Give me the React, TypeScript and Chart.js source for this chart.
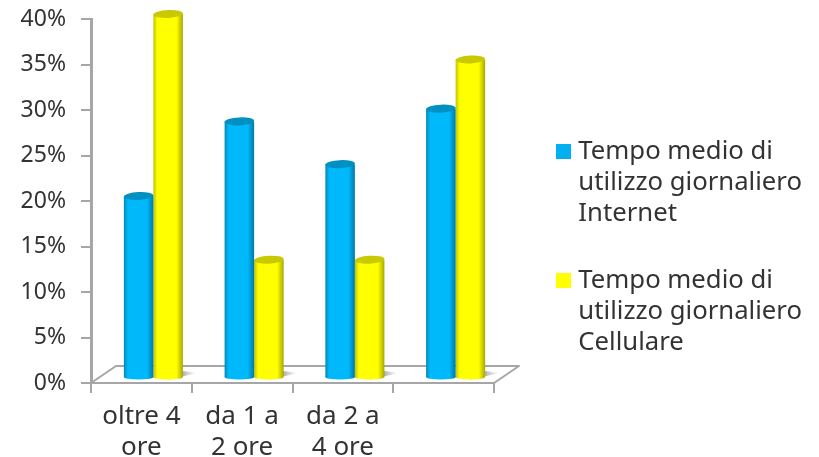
import React, { useEffect, useRef } from "react";
import { Chart, registerables } from "chart.js";

Chart.register(...registerables);

const categories: (string | string[])[] = [["oltre 4", "ore"], ["da 1 a", "2 ore"], ["da 2 a", "4 ore"], ""];
const internetValues = [20, 28.2, 23.5, 29.6];
const cellulareValues = [40, 13, 13, 35];
const internetLabel = ["Tempo medio di", "utilizzo giornaliero", "Internet"];
const cellulareLabel = ["Tempo medio di", "utilizzo giornaliero", "Cellulare"];
const yTicks = [0, 5, 10, 15, 20, 25, 30, 35, 40];

const TEXT = "#333333";
const AXIS = "#a6a6a6";
const FONT = "'Noto Sans'";
const SHIFT_X = 12;
const SHIFT_Y = -5;
const DEPTH_X = 25;
const DEPTH_Y = 17;
const CAT_PCT = 0.586;
const CAP_RY = 4;
const BASE_RY = 2.5;

const palette = [
  { edgeL: "#0089b8", mid: "#00b9fb", edgeR: "#0079a6", cap: "#0090c2", solid: "#00b0f0" },
  { edgeL: "#c4c400", mid: "#ffff00", edgeR: "#a8a800", cap: "#c9c900", solid: "#ffff00" },
];

function barGradient(c: CanvasRenderingContext2D, left: number, width: number, p: (typeof palette)[number]) {
  const g = c.createLinearGradient(left, 0, left + width, 0);
  g.addColorStop(0, p.edgeL);
  g.addColorStop(0.14, p.mid);
  g.addColorStop(0.78, p.mid);
  g.addColorStop(1, p.edgeR);
  return g;
}

function scriptedBackground(datasetIndex: number) {
  return (ctx: any) => {
    const chart = ctx.chart;
    const x = chart.scales.x;
    if (!x || !chart.chartArea) return palette[datasetIndex].solid;
    const catW = chart.chartArea.width / categories.length;
    const w = (catW * CAT_PCT) / 2;
    const center = x.getPixelForValue(ctx.dataIndex);
    const left = datasetIndex === 0 ? center - w : center;
    return barGradient(chart.ctx, left, w, palette[datasetIndex]);
  };
}

function squareMarker(color: string) {
  const c = document.createElement("canvas");
  c.width = 15;
  c.height = 15;
  const g = c.getContext("2d")!;
  g.fillStyle = color;
  g.fillRect(0, 0, 15, 15);
  return c;
}

const cylinderPlugin = {
  id: "cylinder",
  afterLayout(chart: any) {
    const legend = chart.legend;
    if (legend) {
      const w = legend.width;
      legend.left = 561.5 - 36;
      legend.right = legend.left + w;
      legend.top = 103;
      legend.bottom = legend.top + legend.height;
    }
  },
  beforeDatasetsDraw(chart: any) {
    const { ctx, chartArea: a } = chart;
    ctx.save();
    ctx.strokeStyle = AXIS;
    ctx.lineWidth = 2;
    ctx.lineJoin = "round";
    ctx.beginPath();
    ctx.moveTo(a.left, a.bottom);
    ctx.lineTo(a.left + DEPTH_X, a.bottom - DEPTH_Y);
    ctx.lineTo(a.right + DEPTH_X, a.bottom - DEPTH_Y);
    ctx.lineTo(a.right, a.bottom);
    ctx.stroke();
    ctx.restore();
  },
  beforeDatasetDraw(chart: any, args: any) {
    const { ctx } = chart;
    const i = args.index;
    ctx.save();
    ctx.translate(SHIFT_X, SHIFT_Y);
    const p = palette[i];
    args.meta.data.forEach((el: any) => {
      const rx = el.width / 2;
      if (i === 1) {
        ctx.save();
        const sg = ctx.createLinearGradient(el.x + rx - 6, 0, el.x + rx + 14, 0);
        sg.addColorStop(0, "rgba(100,100,100,0.85)");
        sg.addColorStop(1, "rgba(170,170,170,0)");
        ctx.fillStyle = sg;
        ctx.beginPath();
        ctx.moveTo(el.x, el.base + BASE_RY);
        ctx.lineTo(el.x + rx + 15, el.base - 4);
        ctx.lineTo(el.x + rx, el.base - 6);
        ctx.closePath();
        ctx.fill();
        ctx.restore();
      }
      ctx.fillStyle = barGradient(ctx, el.x - rx, el.width, p);
      ctx.beginPath();
      ctx.ellipse(el.x, el.base, rx, BASE_RY, 0, 0, Math.PI * 2);
      ctx.fill();
    });
  },
  afterDatasetDraw(chart: any, args: any) {
    const { ctx } = chart;
    const p = palette[args.index];
    args.meta.data.forEach((el: any) => {
      ctx.fillStyle = p.cap;
      ctx.beginPath();
      ctx.ellipse(el.x, el.y, el.width / 2, CAP_RY, -0.05, 0, Math.PI * 2);
      ctx.fill();
    });
    ctx.restore();
  },
};

export default function App() {
  const ref = useRef<HTMLCanvasElement>(null);
  useEffect(() => {
    const chart = new Chart(ref.current!, {
      type: "bar",
      data: {
        labels: categories as any,
        datasets: [
          {
            label: internetLabel.join(" "),
            data: internetValues,
            backgroundColor: scriptedBackground(0) as any,
          },
          {
            label: cellulareLabel.join(" "),
            data: cellulareValues,
            backgroundColor: scriptedBackground(1) as any,
          },
        ],
      },
      options: {
        responsive: false,
        animation: false,
        devicePixelRatio: 1,
        events: [],
        layout: { padding: { top: 19, right: 325, left: 0, bottom: 0 } },
        datasets: { bar: { categoryPercentage: CAT_PCT, barPercentage: 1, clip: false as any } },
        scales: {
          x: {
            afterFit(s: any) {
              s.height = 74;
              s.paddingLeft = 0;
              s.paddingRight = 0;
            },
            border: { color: AXIS, width: 2 },
            grid: { drawOnChartArea: false, color: AXIS, tickLength: 10, lineWidth: 2 },
            ticks: {
              autoSkip: false,
              maxRotation: 0,
              padding: 8,
              color: TEXT,
              font: { family: FONT, size: 26, lineHeight: 31 / 26 },
            },
          },
          y: {
            min: 0,
            max: 40,
            afterFit(s: any) {
              s.width = 91;
              s.paddingTop = 0;
              s.paddingBottom = 0;
            },
            afterBuildTicks(s: any) {
              s.ticks = yTicks.map((value) => ({ value }));
            },
            border: { color: AXIS, width: 3 },
            grid: { drawOnChartArea: false, color: AXIS, tickLength: 10, lineWidth: 2 },
            ticks: {
              padding: 15,
              color: TEXT,
              font: { family: FONT, size: 23 },
              callback: (v: any) => `${v}%`,
            },
          },
        },
        plugins: {
          tooltip: { enabled: false },
          title: { display: false },
          legend: {
            position: "chartArea" as any,
            align: "start",
            labels: {
              boxWidth: 4,
              boxHeight: 15,
              padding: 36,
              usePointStyle: true,
              color: TEXT,
              font: { family: FONT, size: 25.7, lineHeight: 31 / 25.7 },
              generateLabels: () => [
                { text: internetLabel as any, fontColor: TEXT, fillStyle: palette[0].solid, strokeStyle: palette[0].solid, lineWidth: 0, datasetIndex: 0, pointStyle: squareMarker(palette[0].solid) },
                { text: cellulareLabel as any, fontColor: TEXT, fillStyle: palette[1].solid, strokeStyle: palette[1].solid, lineWidth: 0, datasetIndex: 1, pointStyle: squareMarker(palette[1].solid) },
              ],
            },
          },
        },
      },
      plugins: [cylinderPlugin],
    });
    return () => chart.destroy();
  }, []);
  return (
    <canvas
      ref={ref}
      width={819}
      height={457}
      style={{ position: "absolute", left: 0, top: 0, display: "block", width: 819, height: 457 }}
    />
  );
}
